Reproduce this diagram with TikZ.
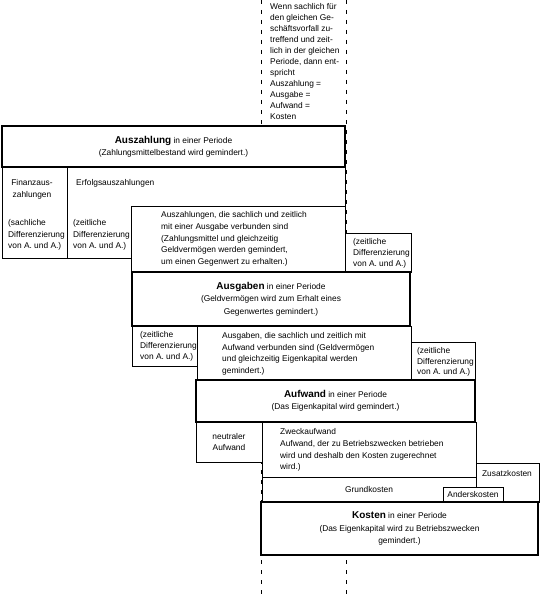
\documentclass[tikz,border=0pt]{standalone}
\usepackage{fontspec}
\setmainfont{Liberation Sans}
\newcommand\headword[1]{{\fontsize{10}{12}\selectfont\bfseries #1}}

\begin{document}
\begin{tikzpicture}[x=1bp,y=-1bp,
  cell/.style={draw,fill=white,line width=0.7bp,anchor=north west,inner sep=0pt,
               outer sep=0pt,align=center,font=\fontsize{8.4}{11}\selectfont},
  mainbox/.style={cell,line width=1.8bp,font=\fontsize{8.4}{12.5}\selectfont},
  txt/.style={anchor=north west,inner sep=0pt,align=left,font=\fontsize{8.4}{11.5}\selectfont},
  guide/.style={line width=0.7bp,dash pattern=on 4bp off 6bp}]
  \useasboundingbox[fill=white] (0,0) rectangle (542,600);
  % dashed guide lines
  \draw[guide] (261,0) -- (261,600);
  \draw[guide] (346,0) -- (346,600);
  \node[txt,font=\fontsize{8.4}{11}\selectfont] (note) at (270,3.5) {Wenn sachlich für\\den gleichen Ge-\\schäftsvorfall zu-\\treffend und zeit-\\lich in der gleichen\\Periode, dann ent-\\spricht\\Auszahlung =\\Ausgabe =\\Aufwand =\\Kosten};
  % Auszahlung
  \node[cell,minimum width=65bp,minimum height=91bp] (finanz) at (2,167) {};
  \node[cell,minimum width=278bp,minimum height=91bp] (erfolg) at (67,167) {};
  \node[cell,minimum width=214bp,minimum height=66bp] (azsach) at (131,206) {};
  \node[cell,minimum width=66bp,minimum height=39bp] (azzeit) at (345,233) {};
  \node[mainbox,minimum width=343bp,minimum height=41bp] (auszahlung) at (2,126)
    {\headword{Auszahlung} in einer Periode\\(Zahlungsmittelbestand wird gemindert.)};
  \node[txt,align=center,anchor=north] (finanztxt) at (32,179.5) {Finanzaus-\\zahlungen};
  \node[txt] (finanzdiff) at (8,219.5) {(sachliche\\Differenzierung\\von A. und A.)};
  \node[txt] (erfolgtxt) at (76,179.5) {Erfolgsauszahlungen};
  \node[txt] (erfolgdiff) at (73,219.5) {(zeitliche\\Differenzierung\\von A. und A.)};
  \node[txt,font=\fontsize{8.4}{11.7}\selectfont] (azsachtxt) at (161,211.5) {Auszahlungen, die sachlich und zeitlich\\mit einer Ausgabe verbunden sind\\(Zahlungsmittel und gleichzeitig\\Geldvermögen werden gemindert,\\um einen Gegenwert zu erhalten.)};
  \node[txt,font=\fontsize{8.4}{11}\selectfont] (azzeittxt) at (353,238.5) {(zeitliche\\Differenzierung\\von A. und A.)};
  % Ausgaben
  \node[cell,minimum width=65bp,minimum height=40bp] (agzeitl) at (132,326) {};
  \node[cell,minimum width=214bp,minimum height=54bp] (agsach) at (197,326) {};
  \node[cell,minimum width=64bp,minimum height=38bp] (agzeitr) at (411,342) {};
  \node[mainbox,minimum width=278bp,minimum height=54bp] (ausgaben) at (132,272)
    {\headword{Ausgaben} in einer Periode\\(Geldvermögen wird zum Erhalt eines\\Gegenwertes gemindert.)};
  \node[txt,font=\fontsize{8.4}{11}\selectfont] (agzeitltxt) at (140,331.5) {(zeitliche\\Differenzierung\\von A. und A.)};
  \node[txt,font=\fontsize{8.4}{11.6}\selectfont] (agsachtxt) at (222,332.5) {Ausgaben, die sachlich und zeitlich mit\\Aufwand verbunden sind (Geldvermögen\\und gleichzeitig Eigenkapital werden\\gemindert.)};
  \node[txt,font=\fontsize{8.4}{10.6}\selectfont] (agzeitrtxt) at (417,347.5) {(zeitliche\\Differenzierung\\von A. und A.)};
  % Aufwand und Kosten
  \node[cell,minimum width=66bp,minimum height=40bp] (neutral) at (196,422) {neutraler\\Aufwand};
  \node[cell,minimum width=214bp,minimum height=55bp] (zweck) at (262,422) {};
  \node[cell,minimum width=214bp,minimum height=25bp] (grund) at (262,477) {Grundkosten};
  \node[cell,minimum width=63bp,minimum height=39bp] (zusatz) at (476,463) {};
  \node[cell,minimum width=60bp,minimum height=15bp] (anders) at (443,487) {Anderskosten};
  \node[txt,anchor=center] (zusatztxt) at (507,474) {Zusatzkosten};
  \node[txt,font=\fontsize{8.4}{11.7}\selectfont] (zwecktxt) at (280,428.5) {Zweckaufwand\\Aufwand, der zu Betriebszwecken betrieben\\wird und deshalb den Kosten zugerechnet\\wird.)};
  \node[mainbox,minimum width=279bp,minimum height=42bp] (aufwand) at (196,380)
    {\headword{Aufwand} in einer Periode\\(Das Eigenkapital wird gemindert.)};
  \node[mainbox,minimum width=277bp,minimum height=53bp] (kosten) at (261,502)
    {\headword{Kosten} in einer Periode\\(Das Eigenkapital wird zu Betriebszwecken\\gemindert.)};
\end{tikzpicture}
\end{document}
